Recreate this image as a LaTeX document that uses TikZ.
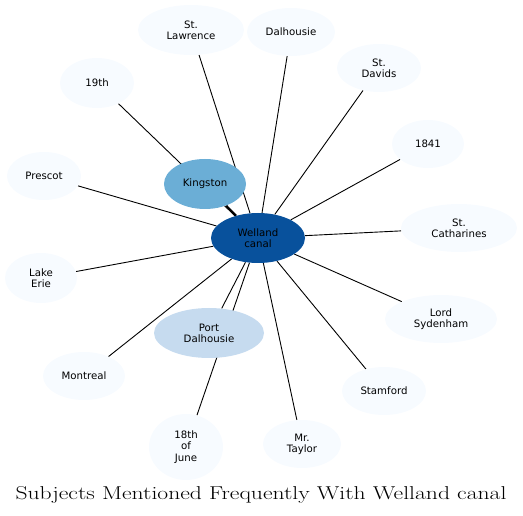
\documentclass[tikz,border=0pt]{standalone}
\usepackage{fontspec}
\newfontfamily\dejavu{DejaVu Sans}
\usetikzlibrary{shapes.geometric,backgrounds}
\definecolor{hubblue}{HTML}{08519C}
\definecolor{midblue}{HTML}{6BAED6}
\definecolor{lightblue}{HTML}{C6DBEF}
\definecolor{paleblue}{HTML}{F7FBFF}
\begin{document}
\begin{tikzpicture}[x=1pt,y=-1pt,
    subj/.style={ellipse,fill=paleblue,inner sep=0pt,align=center,
      font=\dejavu\fontsize{10.2}{11.2}\selectfont},
    link/.style={line width=0.9pt}]
  \useasboundingbox (0,0) rectangle (523,516);
  \node[subj,fill=hubblue,minimum width=94,minimum height=50] (wc) at (258,238) {Welland\\canal};
  \node[subj,fill=midblue,minimum width=82,minimum height=50] (king) at (205,184) {Kingston};
  \node[subj,fill=lightblue,minimum width=110,minimum height=50] (portd) at (209,333) {Port\\Dalhousie};
  \node[subj,minimum width=106,minimum height=50] (stlaw) at (191,30) {St.\\Lawrence};
  \node[subj,minimum width=88,minimum height=48] (dalh) at (291,32) {Dalhousie};
  \node[subj,minimum width=84,minimum height=48] (stdav) at (379,68) {St.\\Davids};
  \node[subj,minimum width=74,minimum height=50] (nine) at (97,83) {19th};
  \node[subj,minimum width=72,minimum height=48] (e1841) at (428,144) {1841};
  \node[subj,minimum width=74,minimum height=48] (presc) at (44,176) {Prescot};
  \node[subj,minimum width=116,minimum height=48] (stcath) at (459,228) {St.\\Catharines};
  \node[subj,minimum width=72,minimum height=50] (lake) at (41,278) {Lake\\Erie};
  \node[subj,minimum width=112,minimum height=48] (lord) at (441,319) {Lord\\Sydenham};
  \node[subj,minimum width=82,minimum height=48] (mont) at (84,376) {Montreal};
  \node[subj,minimum width=84,minimum height=48] (stam) at (384,391) {Stamford};
  \node[subj,minimum width=74,minimum height=66] (june) at (186,447) {18th\\of\\June};
  \node[subj,minimum width=78,minimum height=48] (taylor) at (302,444) {Mr.\\Taylor};
  \node[font=\fontsize{18.6}{20}\selectfont,xscale=1.27,transform shape] (title) at (261,495) {Subjects Mentioned Frequently With Welland canal};
  % connectors behind the nodes
  \begin{pgfonlayer}{background}
    \draw[link,line width=2pt] (wc) to (king);
    \draw[link] (wc) to (portd);
    \draw[link] (wc) to (stlaw);
    \draw[link] (wc) to (dalh);
    \draw[link] (wc) to (stdav);
    \draw[link] (wc) to (nine);
    \draw[link] (wc) to (e1841);
    \draw[link] (wc) to (presc);
    \draw[link] (wc) to (stcath);
    \draw[link] (wc) to (lake);
    \draw[link] (wc) to (lord);
    \draw[link] (wc) to (mont);
    \draw[link] (wc) to (stam);
    \draw[link] (wc) to (june);
    \draw[link] (wc) to (taylor);
  \end{pgfonlayer}
\end{tikzpicture}
\end{document}
